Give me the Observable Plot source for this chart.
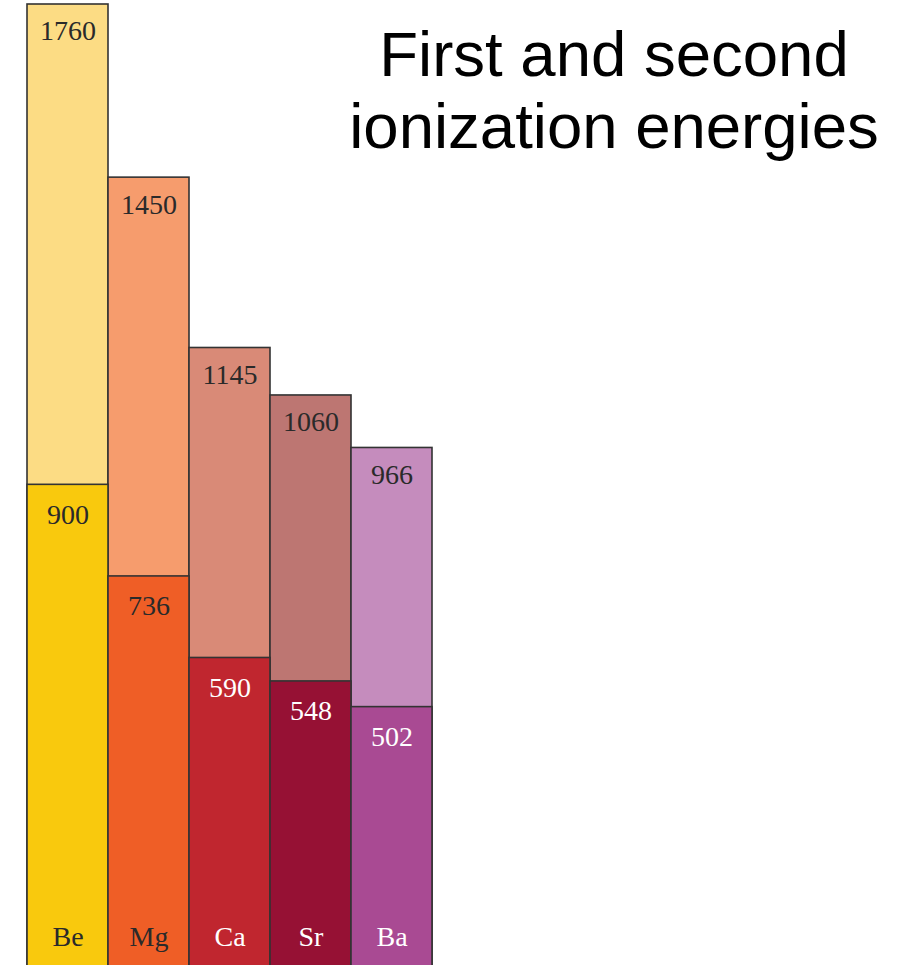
<!DOCTYPE html>
<html>
<head>
<meta charset="utf-8">
<script src="https://cdn.jsdelivr.net/npm/d3@7"></script>
<script src="https://cdn.jsdelivr.net/npm/@observablehq/plot@0.6"></script>
<style>
  html, body { margin: 0; padding: 0; background: #fff; overflow: hidden; }
  #wrap { position: relative; width: 910px; height: 965px; }
  #title {
    position: absolute; left: 314px; top: 18px; width: 600px;
    text-align: center; font-family: "Liberation Sans", Arial, sans-serif;
    font-size: 63.5px; line-height: 72px; color: #000;
  }
</style>
</head>
<body>
<div id="wrap">
  <div id="chart"></div>
  <div id="title">First and second<br>ionization energies</div>
</div>
<script>
const elements = ["Be", "Mg", "Ca", "Sr", "Ba"];
const firstIE = [900, 736, 590, 548, 502];
const secondIE = [1760, 1450, 1145, 1060, 966];
const lightColors = ["#FCDC84", "#F69C6D", "#D98A77", "#BD7672", "#C58CBD"];
const darkColors = ["#F9C90D", "#EF5E26", "#C0262F", "#961134", "#A94A93"];
const firstLabelColors = ["#2a2a2a", "#2a2a2a", "#ffffff", "#ffffff", "#ffffff"];

const rows = elements.map((el, i) => ({
  el, first: firstIE[i], second: secondIE[i],
  light: lightColors[i], dark: darkColors[i], fl: firstLabelColors[i]
}));

const serif = "'Liberation Serif', 'DejaVu Serif', serif";

const chart = Plot.plot({
  width: 910,
  height: 965,
  margin: 0,
  x: { domain: elements, range: [26, 432], padding: 0, axis: null },
  y: { domain: [0, 1760], range: [987, 4], axis: null },
  marks: [
    Plot.barY(rows, { x: "el", y: "second", fill: "light", stroke: "#333", strokeWidth: 1.6, inset: 0 }),
    Plot.barY(rows, { x: "el", y: "first", fill: "dark", stroke: "#333", strokeWidth: 1.6, inset: 0 }),
    Plot.text(rows, { x: "el", y: "second", text: d => String(d.second), dy: 27, fill: "#2a2a2a",
      fontSize: 28, fontFamily: serif, lineAnchor: "middle" }),
    Plot.text(rows, { x: "el", y: "first", text: d => String(d.first), dy: 30, fill: "fl",
      fontSize: 28, fontFamily: serif, lineAnchor: "middle" }),
    Plot.text(rows, { x: "el", y: () => 0, text: "el", dy: -50, fill: "fl",
      fontSize: 28, fontFamily: serif, lineAnchor: "middle" })
  ]
});
document.getElementById("chart").appendChild(chart);
</script>
</body>
</html>
